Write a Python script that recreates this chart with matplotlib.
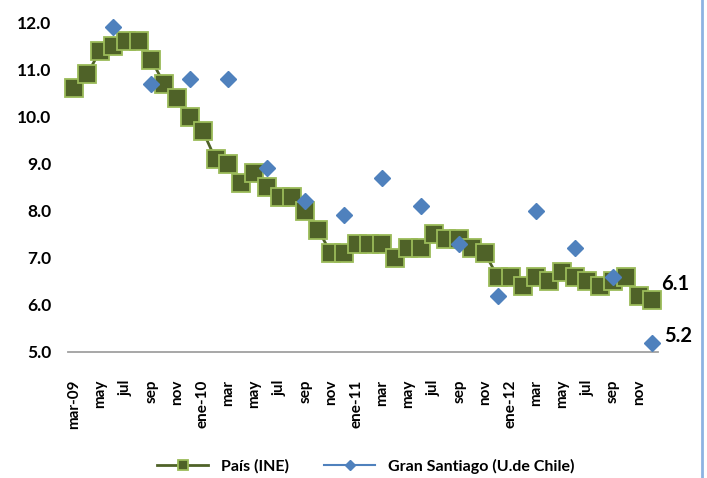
import matplotlib.pyplot as plt
from matplotlib.lines import Line2D

plt.rcParams['font.family'] = ['Lato', 'DejaVu Sans']

# monthly rolling-quarter values, mar-09 .. dic-12
months = ['mar-09', 'abr', 'may', 'jun', 'jul', 'ago', 'sep', 'oct', 'nov', 'dic',
          'ene-10', 'feb', 'mar', 'abr', 'may', 'jun', 'jul', 'ago', 'sep', 'oct', 'nov', 'dic',
          'ene-11', 'feb', 'mar', 'abr', 'may', 'jun', 'jul', 'ago', 'sep', 'oct', 'nov', 'dic',
          'ene-12', 'feb', 'mar', 'abr', 'may', 'jun', 'jul', 'ago', 'sep', 'oct', 'nov', 'dic']
pais = [10.6, 10.9, 11.4, 11.5, 11.6, 11.6, 11.2, 10.7, 10.4, 10.0,
        9.7, 9.1, 9.0, 8.6, 8.8, 8.5, 8.3, 8.3, 8.0, 7.6, 7.1, 7.1,
        7.3, 7.3, 7.3, 7.0, 7.2, 7.2, 7.5, 7.4, 7.4, 7.2, 7.1, 6.6,
        6.6, 6.4, 6.6, 6.5, 6.7, 6.6, 6.5, 6.4, 6.5, 6.6, 6.2, 6.1]

# Gran Santiago (quarterly: jun, sep, dic, mar)
gs_pos = [3, 6, 9, 12, 15, 18, 21, 24, 27, 30, 33, 36, 39, 42, 45]
gs_vals = [11.9, 10.7, 10.8, 10.8, 8.9, 8.2, 7.9, 8.7, 8.1, 7.3, 6.2, 8.0, 7.2, 6.6, 5.2]

dark = '#4F6228'
light = '#9BBB59'
blue = '#4F81BD'

fig = plt.figure(figsize=(7.07, 4.78), dpi=100)
ax = fig.add_axes([68/707, 1 - 352/478, 590/707, (352 - 22.5)/478])

x = list(range(len(pais)))
ax.plot(x, pais, color=dark, lw=2, marker='s', ms=12.5, mfc=dark, mec=light,
        mew=1.3, clip_on=False, zorder=3)
ax.plot(gs_pos, gs_vals, ls='none', marker='D', ms=8.5, color=blue,
        clip_on=False, zorder=4)

ax.set_xlim(-0.5, len(pais) - 0.5)
ax.set_ylim(5, 12)
ax.set_yticks(range(5, 13))
ax.set_yticklabels([f'{v:.1f}' for v in range(5, 13)], fontsize=12.5, fontweight='bold')
ticks = x[::2]
ax.set_xticks(ticks)
ax.set_xticklabels([months[i] for i in ticks], rotation=90, fontsize=11, fontweight='bold')
ax.tick_params(axis='x', length=0, pad=20)
ax.tick_params(axis='y', length=0, pad=12)

for s in ['top', 'right', 'left']:
    ax.spines[s].set_visible(False)
ax.spines['bottom'].set_color('#A0A0A0')
ax.spines['bottom'].set_linewidth(1.3)

ax.annotate(f'{pais[-1]:.1f}', (x[-1], pais[-1]), xytext=(17, 12), textcoords='offset points',
            ha='center', va='center', fontsize=14.5, fontweight='bold')
ax.annotate(f'{gs_vals[-1]:.1f}', (gs_pos[-1], gs_vals[-1]), xytext=(19, 5), textcoords='offset points',
            ha='center', va='center', fontsize=14.5, fontweight='bold')

handles = [Line2D([], [], color=dark, lw=2, marker='s', ms=7, mfc=dark, mec=light, mew=1.3),
           Line2D([], [], color=blue, lw=1.5, marker='D', ms=5)]
fig.legend(handles, ['País (INE)', 'Gran Santiago (U.de Chile)'], loc='center',
           bbox_to_anchor=(366/707, 1 - 466/478), ncol=2, frameon=False,
           prop={'weight': 'bold', 'size': 11.5}, handlelength=3.2, columnspacing=2.2)

fig.add_artist(Line2D([702/707, 702/707], [0, 1], color='#8DB3E2', lw=2,
                      transform=fig.transFigure))

fig.savefig('out.png', dpi=100)
